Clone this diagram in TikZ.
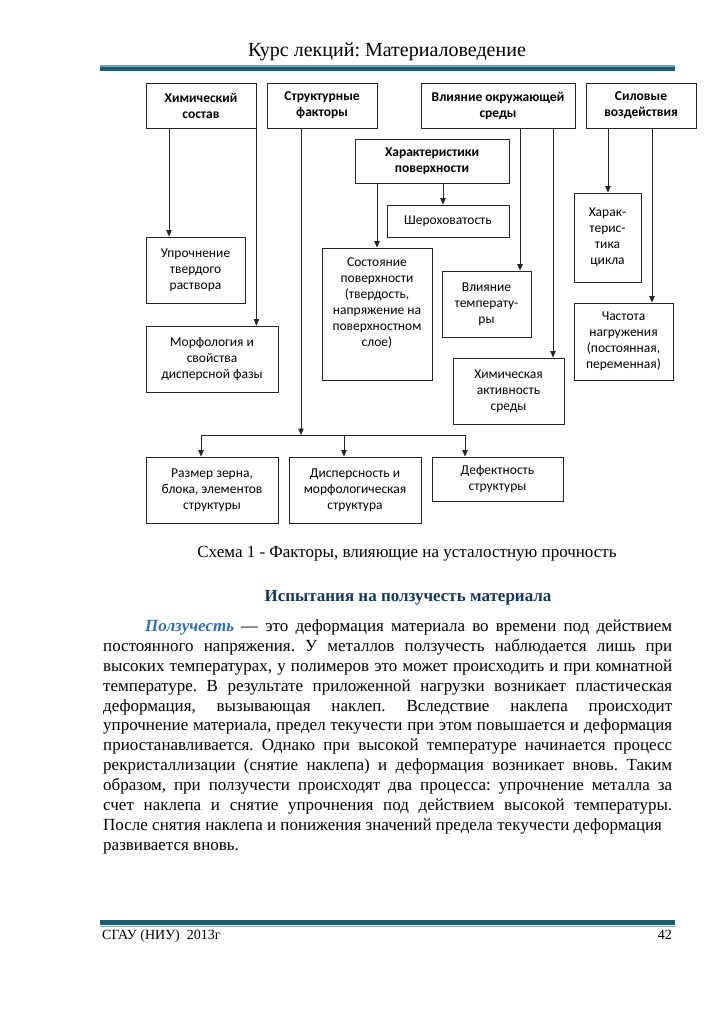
\documentclass[tikz,border=0pt]{standalone}
\usepackage{fontspec}
\setmainfont{Liberation Serif}
\newfontfamily\boxfont{Carlito}
\usepackage{xcolor}
\usetikzlibrary{arrows.meta,positioning}
\frenchspacing

\definecolor{ruledark}{HTML}{1F5A75}
\definecolor{rulelight}{HTML}{6FA3C4}
\definecolor{titlenavy}{HTML}{17365D}
\definecolor{termblue}{HTML}{2F6FB7}

\begin{document}
\begin{tikzpicture}[
  x=1pt, y=-1pt,
  factor/.style={draw=black!85, line width=0.9pt, align=center, inner sep=2pt,
    font=\boxfont\fontsize{13.5}{16}\selectfont},
  factorhead/.style={factor, font=\boxfont\bfseries\fontsize{13.5}{16}\selectfont},
  link/.style={draw=black!85, line width=0.8pt},
  arr/.style={link, -{Triangle[length=6.5pt,width=5.5pt]}},
  bodyline/.style={anchor=base west, inner sep=0pt, font=\fontsize{17}{20}\selectfont},
]
  \fill[white] (0,0) rectangle (723,1024);
  \useasboundingbox (0,0) rectangle (723,1024);

  % --- Page header ---
  \node[anchor=base, inner sep=0pt, font=\fontsize{20}{24}\selectfont] (hdr) at (387,57) {Курс лекций: Материаловедение};
  \fill[rulelight] (100,65) rectangle (675,67);
  \fill[ruledark] (100,67) rectangle (675,71);

  % --- Top row ---
  \node[factorhead, minimum width=110, minimum height=45] (chem) at (201,105.5) {Химический\\состав};
  \node[factorhead, minimum width=110, minimum height=45] (struct) at (322,105.5) {Структурные\\факторы};
  \node[factorhead, minimum width=154, minimum height=45] (env) at (498,105.5) {Влияние окружающей\\среды};
  \node[factorhead, minimum width=110, minimum height=45] (force) at (641,105.5) {Силовые\\воздействия};

  % --- Second level ---
  \node[factorhead, minimum width=154, minimum height=44] (surf) at (432,161) {Характеристики\\поверхности};
  \node[factor, minimum width=122, minimum height=32] (rough) at (448,221) {Шероховатость};
  \node[factor, minimum width=99, minimum height=66] (solid) at (195.5,270) {Упрочнение\\твердого\\раствора};
  \node[factor, minimum width=110, minimum height=132] (state) at (377,314) {Состояние\\поверхности\\(твердость,\\напряжение на\\поверхностном\\слое)\\[8pt]\mbox{}};
  \node[factor, minimum width=89, minimum height=66] (temp) at (486.5,304) {Влияние\\температу-\\ры};
  \node[factor, minimum width=67, minimum height=89] (cycle) at (607.5,237.5) {Харак-\\терис-\\тика\\цикла};
  \node[factor, minimum width=132, minimum height=66] (morph) at (212,359) {Морфология и\\свойства\\дисперсной фазы};
  \node[factor, minimum width=99, minimum height=77] (freq) at (623.5,341.5) {Частота\\нагружения\\(постоянная,\\переменная)};
  \node[factor, minimum width=111, minimum height=66] (chemact) at (508.5,391) {Химическая\\активность\\среды};

  % --- Structure branch ---
  \node[factor, minimum width=132, minimum height=66] (grain) at (212,490) {Размер зерна,\\блока, элементов\\структуры};
  \node[factor, minimum width=132, minimum height=66] (disp) at (355,490) {Дисперсность и\\морфологическая\\структура};
  \node[factor, minimum width=131, minimum height=44] (defect) at (497.5,479) {Дефектность\\структуры};

  % --- Connectors ---
  \draw[arr] ([xshift=-32pt]chem.south) -- ([xshift=-32pt]chem.south |- solid.north);
  \draw[arr] (chem.south east) -- (chem.south east |- morph.north);
  \draw[arr] ([xshift=-55pt]surf.south) -- ([xshift=-55pt]surf.south |- state.north);
  \draw[arr] ([xshift=11pt]surf.south) -- ([xshift=11pt]surf.south |- rough.north);
  \draw[arr] ([xshift=22pt]env.south) -- ([xshift=22pt]env.south |- temp.north);
  \draw[arr] ([xshift=55pt]env.south) -- ([xshift=55pt]env.south |- chemact.north);
  \draw[arr] ([xshift=-33pt]force.south) -- ([xshift=-33pt]force.south |- cycle.north);
  \draw[arr] ([xshift=11pt]force.south) -- ([xshift=11pt]force.south |- freq.north);

  \coordinate (busL) at (201,435);
  \coordinate (busM) at (301,435);
  \coordinate (busC) at (344,435);
  \coordinate (busR) at (465,435);
  \draw[arr] (struct.south -| busM) -- (busM);
  \draw[link] (busL) -- (busR);
  \draw[arr] (busL) -- (busL |- grain.north);
  \draw[arr] (busC) -- (busC |- disp.north);
  \draw[arr] (busR) -- (busR |- defect.north);

  % --- Caption and section title ---
  \node[anchor=base, inner sep=0pt, font=\fontsize{17}{20}\selectfont] (cap) at (407,557) {Схема 1 - Факторы, влияющие на усталостную прочность};
  \node[anchor=base, inner sep=0pt, text=titlenavy, font=\bfseries\fontsize{17}{20}\selectfont] (ttl) at (408,601) {Испытания на ползучесть материала};

  % --- Paragraph ---
  \node[bodyline] (p1) at (145,631) {\makebox[527pt][s]{\textcolor{termblue}{\textbf{\textit{Ползучесть}}} — это деформация материала во времени под действием}};
  \node[bodyline] (p2) at (103,651) {\makebox[569pt][s]{постоянного напряжения. У металлов ползучесть наблюдается лишь при}};
  \node[bodyline] (p3) at (103,671) {\makebox[569pt][s]{высоких температурах, у полимеров это может происходить и при комнатной}};
  \node[bodyline] (p4) at (103,691) {\makebox[569pt][s]{температуре. В результате приложенной нагрузки возникает пластическая}};
  \node[bodyline] (p5) at (103,711) {\makebox[569pt][s]{деформация, вызывающая наклеп. Вследствие наклепа происходит}};
  \node[bodyline] (p6) at (103,730) {\makebox[569pt][s]{упрочнение материала, предел текучести при этом повышается и деформация}};
  \node[bodyline] (p7) at (103,750) {\makebox[569pt][s]{приостанавливается. Однако при высокой температуре начинается процесс}};
  \node[bodyline] (p8) at (103,770) {\makebox[569pt][s]{рекристаллизации (снятие наклепа) и деформация возникает вновь. Таким}};
  \node[bodyline] (p9) at (103,790) {\makebox[569pt][s]{образом, при ползучести происходят два процесса: упрочнение металла за}};
  \node[bodyline] (p10) at (103,810) {\makebox[569pt][s]{счет наклепа и снятие упрочнения под действием высокой температуры.}};
  \node[bodyline] (p11) at (103,830) {После снятия наклепа и понижения значений предела текучести деформация};
  \node[bodyline] (p12) at (103,850) {развивается вновь.};

  % --- Page footer ---
  \fill[ruledark] (100,920) rectangle (675,925);
  \fill[rulelight] (100,925.5) rectangle (675,927);
  \node[anchor=base west, inner sep=0pt, font=\fontsize{14}{16}\selectfont] (ftl) at (102,939) {СГАУ (НИУ) \ 2013г};
  \node[anchor=base east, inner sep=0pt, font=\fontsize{14}{16}\selectfont] (ftr) at (672,939) {42};
\end{tikzpicture}
\end{document}
